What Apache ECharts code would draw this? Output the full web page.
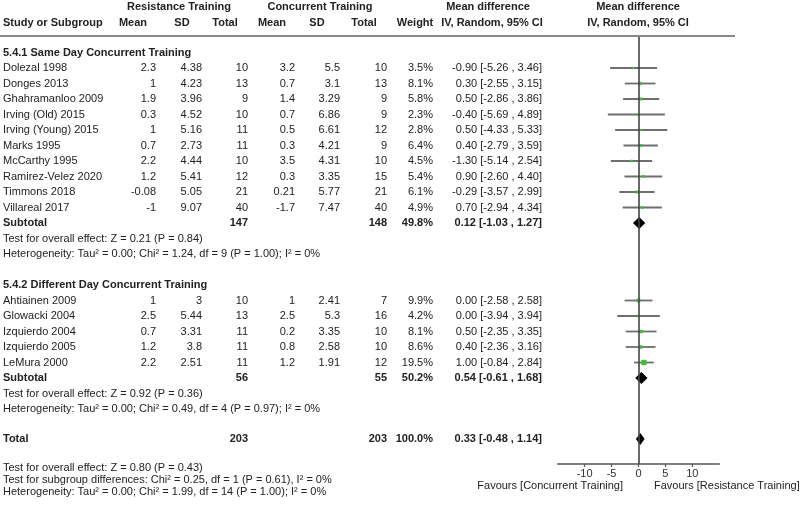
<!DOCTYPE html>
<html>
<head>
<meta charset="utf-8">
<script src="https://cdn.jsdelivr.net/npm/echarts@6.0.0/dist/echarts.min.js"></script>
<style>
  html, body { margin: 0; padding: 0; background: #fff; }
  #forest { width: 800px; height: 510px; }
</style>
</head>
<body>
<div id="forest"></div>
<script type="text/javascript">
// study level data
var studies = ['Dolezal 1998', 'Donges 2013', 'Ghahramanloo 2009', 'Irving (Old) 2015', 'Irving (Young) 2015',
  'Marks 1995', 'McCarthy 1995', 'Ramirez-Velez 2020', 'Timmons 2018', 'Villareal 2017',
  'Ahtiainen 2009', 'Glowacki 2004', 'Izquierdo 2004', 'Izquierdo 2005', 'LeMura 2000'];
var studyGroup = [0, 0, 0, 0, 0, 0, 0, 0, 0, 0, 1, 1, 1, 1, 1];
var rtMean = [2.3, 1, 1.9, 0.3, 1, 0.7, 2.2, 1.2, -0.08, -1, 1, 2.5, 0.7, 1.2, 2.2];
var rtSD = [4.38, 4.23, 3.96, 4.52, 5.16, 2.73, 4.44, 5.41, 5.05, 9.07, 3, 5.44, 3.31, 3.8, 2.51];
var rtTotal = [10, 13, 9, 10, 11, 11, 10, 12, 21, 40, 10, 13, 11, 11, 11];
var ctMean = [3.2, 0.7, 1.4, 0.7, 0.5, 0.3, 3.5, 0.3, 0.21, -1.7, 1, 2.5, 0.2, 0.8, 1.2];
var ctSD = [5.5, 3.1, 3.29, 6.86, 6.61, 4.21, 4.31, 3.35, 5.77, 7.47, 2.41, 5.3, 3.35, 2.58, 1.91];
var ctTotal = [10, 13, 9, 9, 12, 9, 10, 15, 21, 40, 7, 16, 10, 10, 12];
var weight = [3.5, 8.1, 5.8, 2.3, 2.8, 6.4, 4.5, 5.4, 6.1, 4.9, 9.9, 4.2, 8.1, 8.6, 19.5];
var md = [-0.90, 0.30, 0.50, -0.40, 0.50, 0.40, -1.30, 0.90, -0.29, 0.70, 0.00, 0.00, 0.50, 0.40, 1.00];
var ciLow = [-5.26, -2.55, -2.86, -5.69, -4.33, -2.79, -5.14, -2.60, -3.57, -2.94, -2.58, -3.94, -2.35, -2.36, -0.84];
var ciHigh = [3.46, 3.15, 3.86, 4.89, 5.33, 3.59, 2.54, 4.40, 2.99, 4.34, 2.58, 3.94, 3.35, 3.16, 2.84];

// subgroup data
var groupTitles = ['5.4.1 Same Day Concurrent Training', '5.4.2 Different Day Concurrent Training'];
var subRtTotal = [147, 56];
var subCtTotal = [148, 55];
var subWeight = [49.8, 50.2];
var subMd = [0.12, 0.54];
var subLow = [-1.03, -0.61];
var subHigh = [1.27, 1.68];
var subTest = ['Test for overall effect: Z = 0.21 (P = 0.84)', 'Test for overall effect: Z = 0.92 (P = 0.36)'];
var subHet = ['Heterogeneity: Tau\u00b2 = 0.00; Chi\u00b2 = 1.24, df = 9 (P = 1.00); I\u00b2 = 0%',
  'Heterogeneity: Tau\u00b2 = 0.00; Chi\u00b2 = 0.49, df = 4 (P = 0.97); I\u00b2 = 0%'];

// overall
var totalRt = 203, totalCt = 203, totalWeight = 100.0;
var totalMd = 0.33, totalLow = -0.48, totalHigh = 1.14;
var footerLines = ['Test for overall effect: Z = 0.80 (P = 0.43)',
  'Test for subgroup differences: Chi\u00b2 = 0.25, df = 1 (P = 0.61), I\u00b2 = 0%',
  'Heterogeneity: Tau\u00b2 = 0.00; Chi\u00b2 = 1.99, df = 14 (P = 1.00); I\u00b2 = 0%'];

var xTicks = [-10, -5, 0, 5, 10];
var favours = ['Favours [Concurrent Training]', 'Favours [Resistance Training]'];

// layout
var FONT = '11px "Liberation Sans", Arial, sans-serif';
var BOLD = 'bold 11px "Liberation Sans", Arial, sans-serif';
var col = { name: 3, rtMean: 156, rtSD: 202, rtTotal: 248, ctMean: 295, ctSD: 340, ctTotal: 387, weight: 433, ci: 542 };
var pitch = 15.5;

var cells = [];
function add(x, y, text, align, bold) {
  cells.push({ x: x, y: y, text: String(text), align: align || 'right', bold: !!bold });
}
function ciText(m, lo, hi) {
  return m.toFixed(2) + ' [' + lo.toFixed(2) + ' , ' + hi.toFixed(2) + ']';
}

// header
add(179, 7, 'Resistance Training', 'center', true);
add(320, 7, 'Concurrent Training', 'center', true);
add(488, 7, 'Mean difference', 'center', true);
add(638, 7, 'Mean difference', 'center', true);
add(3, 23, 'Study or Subgroup', 'left', true);
add(133, 23, 'Mean', 'center', true);
add(182, 23, 'SD', 'center', true);
add(225, 23, 'Total', 'center', true);
add(272, 23, 'Mean', 'center', true);
add(317, 23, 'SD', 'center', true);
add(364, 23, 'Total', 'center', true);
add(415, 23, 'Weight', 'center', true);
add(492, 23, 'IV, Random, 95% CI', 'center', true);
add(638, 23, 'IV, Random, 95% CI', 'center', true);

var studyPts = [];
var diamondPts = [];
var y = 52.5;
for (var g = 0; g < groupTitles.length; g++) {
  add(col.name, y, groupTitles[g], 'left', true);
  y += pitch;
  for (var i = 0; i < studies.length; i++) {
    if (studyGroup[i] !== g) continue;
    add(col.name, y, studies[i], 'left');
    add(col.rtMean, y, rtMean[i]);
    add(col.rtSD, y, rtSD[i]);
    add(col.rtTotal, y, rtTotal[i]);
    add(col.ctMean, y, ctMean[i]);
    add(col.ctSD, y, ctSD[i]);
    add(col.ctTotal, y, ctTotal[i]);
    add(col.weight, y, weight[i].toFixed(1) + '%');
    add(col.ci, y, ciText(md[i], ciLow[i], ciHigh[i]));
    studyPts.push([md[i], y, ciLow[i], ciHigh[i], weight[i]]);
    y += pitch;
  }
  add(col.name, y, 'Subtotal', 'left', true);
  add(col.rtTotal, y, subRtTotal[g], 'right', true);
  add(col.ctTotal, y, subCtTotal[g], 'right', true);
  add(col.weight, y, subWeight[g].toFixed(1) + '%', 'right', true);
  add(col.ci, y, ciText(subMd[g], subLow[g], subHigh[g]), 'right', true);
  diamondPts.push([subMd[g], y, subLow[g], subHigh[g]]);
  y += pitch;
  add(col.name, y, subTest[g], 'left');
  y += pitch;
  add(col.name, y, subHet[g], 'left');
  y += pitch * 2;
}
y -= 1;
add(col.name, y, 'Total', 'left', true);
add(col.rtTotal, y, totalRt, 'right', true);
add(col.ctTotal, y, totalCt, 'right', true);
add(col.weight, y, totalWeight.toFixed(1) + '%', 'right', true);
add(col.ci, y, ciText(totalMd, totalLow, totalHigh), 'right', true);
diamondPts.push([totalMd, y, totalLow, totalHigh]);

for (var f = 0; f < footerLines.length; f++) {
  add(col.name, 468 + f * 11.8, footerLines[f], 'left');
}
add(623, 486, favours[0], 'right');
add(654, 486, favours[1], 'left');

var myChart = echarts.init(document.getElementById('forest'), null, { renderer: 'canvas' });

var option = {
  animation: false,
  backgroundColor: '#fff',
  grid: [
    { left: 0, right: 0, top: 0, height: 510 },
    { left: 557.7, right: 80.7, top: 36, height: 428 }
  ],
  xAxis: [
    { gridIndex: 0, type: 'value', min: 0, max: 800, show: false },
    {
      gridIndex: 1, type: 'value', min: -15, max: 15, interval: 5,
      position: 'bottom',
      axisLine: { show: true, onZero: false, lineStyle: { color: '#555', width: 1.5 } },
      axisTick: { show: true, length: 3, customValues: xTicks, lineStyle: { color: '#555', width: 1.2 } },
      axisLabel: { customValues: xTicks, margin: 4, color: '#333', fontSize: 11, fontFamily: 'Liberation Sans, Arial, sans-serif' },
      splitLine: { show: false }
    }
  ],
  yAxis: [
    { gridIndex: 0, type: 'value', min: 0, max: 510, inverse: true, show: false },
    { gridIndex: 1, type: 'value', min: 36, max: 464, inverse: true, show: false }
  ],
  graphic: [
    { type: 'line', shape: { x1: 0, y1: 36, x2: 735, y2: 36 }, style: { stroke: '#888', lineWidth: 2 }, z: 10 }
  ],
  series: [
    {
      type: 'custom',
      name: 'table',
      xAxisIndex: 0, yAxisIndex: 0,
      silent: true,
      data: cells.map(function (c) { return [c.x, c.y]; }),
      renderItem: function (params, api) {
        var c = cells[params.dataIndex];
        var p = api.coord([c.x, c.y]);
        return {
          type: 'text',
          style: {
            x: p[0], y: p[1], text: c.text,
            align: c.align, verticalAlign: 'middle',
            font: c.bold ? BOLD : FONT,
            fill: '#222'
          }
        };
      }
    },
    {
      // line of no effect
      type: 'line',
      name: 'zero',
      xAxisIndex: 1, yAxisIndex: 1,
      data: [],
      silent: true,
      markLine: {
        silent: true,
        symbol: 'none',
        label: { show: false },
        lineStyle: { color: '#444', width: 1.6, type: 'solid' },
        data: [{ xAxis: 0 }]
      },
      z: 2
    },
    {
      type: 'custom',
      name: 'studies',
      xAxisIndex: 1, yAxisIndex: 1,
      silent: true,
      data: studyPts,
      renderItem: function (params, api) {
        var c = api.coord([api.value(0), api.value(1)]);
        var l = api.coord([api.value(2), api.value(1)]);
        var r = api.coord([api.value(3), api.value(1)]);
        var s = Math.max(2, Math.sqrt(api.value(4)) * 1.2);
        return {
          type: 'group',
          children: [
            { type: 'line', shape: { x1: l[0], y1: l[1], x2: r[0], y2: r[1] }, style: { stroke: '#6f6f6f', lineWidth: 1.8 } },
            { type: 'rect', shape: { x: c[0] - s / 2, y: c[1] - s / 2, width: s, height: s }, style: { fill: '#3cbf3c' }, z2: 2 }
          ]
        };
      },
      z: 3
    },
    {
      type: 'custom',
      name: 'pooled',
      xAxisIndex: 1, yAxisIndex: 1,
      silent: true,
      data: diamondPts,
      renderItem: function (params, api) {
        var c = api.coord([api.value(0), api.value(1)]);
        var l = api.coord([api.value(2), api.value(1)]);
        var r = api.coord([api.value(3), api.value(1)]);
        var h = 6;
        return {
          type: 'polygon',
          shape: { points: [[l[0], c[1]], [c[0], c[1] - h], [r[0], c[1]], [c[0], c[1] + h]] },
          style: { fill: '#000' }
        };
      },
      z: 4
    }
  ]
};
myChart.setOption(option);
</script>
</body>
</html>
